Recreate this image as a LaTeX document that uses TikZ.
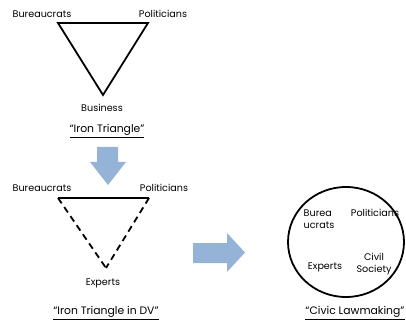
\documentclass[tikz,border=0pt]{standalone}
\usepackage{fontspec}
\setmainfont{Poppins}
\usetikzlibrary{
  calc,
  positioning
}
\definecolor{arrowblue}{RGB}{149,179,215}
\tikzset{
  % For solid triangle sides.
  side/.style={
    line width=1.8pt,
    line join=miter},
%
  % For the dashed sides of the second triangle.
  dashed side/.style={
    line width=1.8pt,
    dash pattern=on 6.5pt off 4.5pt},
%
  % For the labels at the corners.
  actor/.style={
    font=\fontsize{9.6}{11.5}\selectfont,
    inner sep=0pt,
    align=center},
%
  % For the underlined captions.
  caption/.style={
    font=\fontsize{10.8}{12}\selectfont,
    inner sep=0pt},
%
  % For the big blue arrows.
  block arrow/.style={
    fill=arrowblue},
}

\begin{document}
\begin{tikzpicture}[x=1pt, y=-1pt]
  \useasboundingbox (0,0) rectangle (406,320);

  % Top triangle.
  \coordinate (A) at (58,23);
  \coordinate (B) at (148,23);
  \coordinate (C) at (103,95);

  \node[actor] (bur1) at (42,14) {Bureaucrats};
  \node[actor] (pol1) at (163,14) {Politicians};
  \node[actor] (bus) at (102,108) {Business};
  \node[caption] (iron) at (107,131) {\underline{“Iron Triangle”}};

  \draw[side] (A) -- (B) -- (C) -- cycle;

  % Down arrow.
  \fill[block arrow] (97,147) -- (118,147) -- (118,162) -- (126,162)
    -- (108,185) -- (90,162) -- (97,162) -- cycle;

  % Second triangle.
  \coordinate (D) at (58,198);
  \coordinate (E) at (149,198);
  \coordinate (F) at (106,268);

  \node[actor] (bur2) at (42,188) {Bureaucrats};
  \node[actor] (pol2) at (164,188) {Politicians};
  \node[actor] (exp2) at (103,283) {Experts};
  \node[caption] (irondv) at (106,313) {\underline{“Iron Triangle in DV”}};

  \draw[side] (D) -- (E);
  \draw[dashed side] (D) -- (F);
  \draw[dashed side] (E) -- (F);

  % Right arrow.
  \fill[block arrow] (193,243) -- (227,243) -- (227,233) -- (245,252.5)
    -- (227,272) -- (227,263) -- (193,263) -- cycle;

  % Circle.
  \coordinate (O) at (346,242);
  \draw[side] (O) ellipse [x radius=58, y radius=55];

  \node[actor, align=left] (bur3) at (319,219) {Burea\\ucrats};
  \node[actor] (pol3) at (375,213) {Politicians};
  \node[actor] (exp3) at (325,267) {Experts};
  \node[actor] (civ3) at (374,264) {Civil\\Society};
  \node[caption] (civic) at (355,313) {\underline{“Civic Lawmaking”}};
\end{tikzpicture}
\end{document}
